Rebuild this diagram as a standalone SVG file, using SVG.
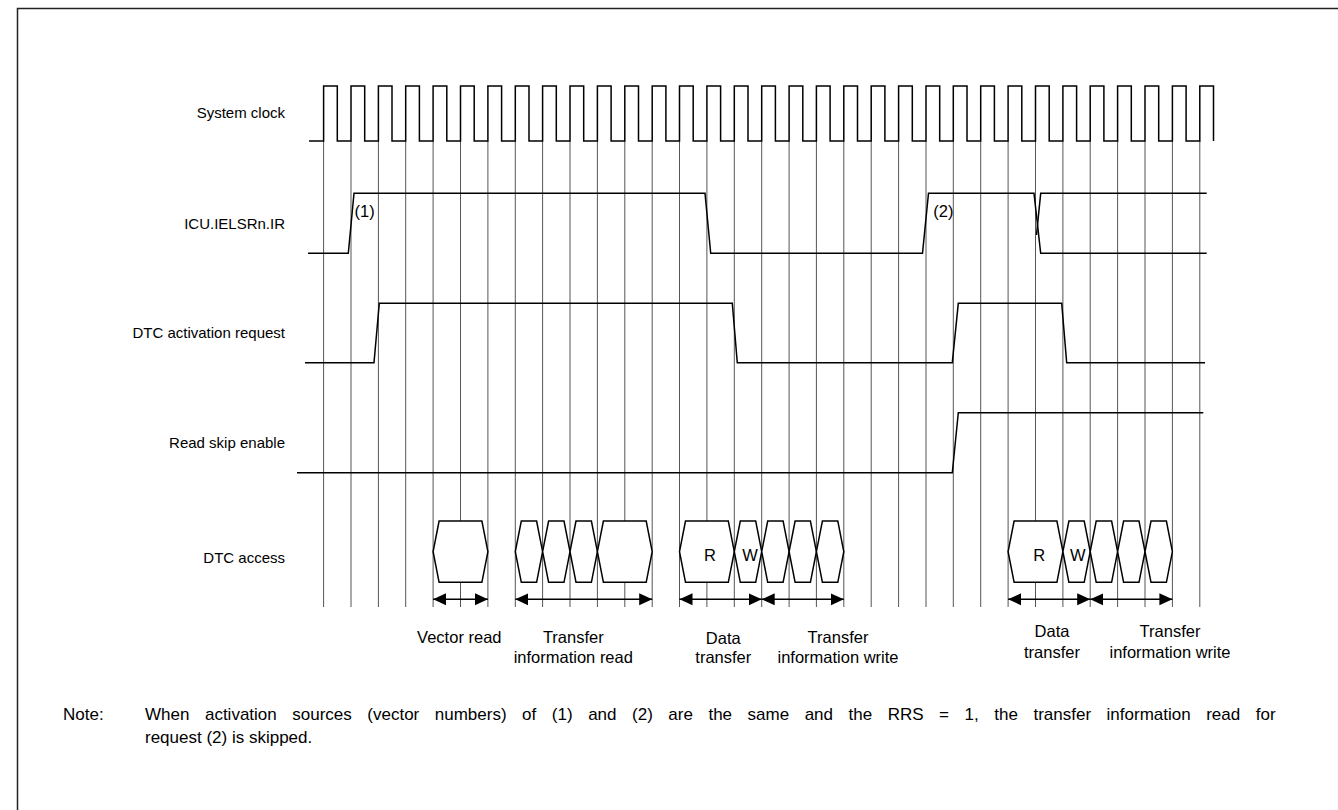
<svg xmlns="http://www.w3.org/2000/svg" width="1338" height="810" viewBox="0 0 1338 810">
<style>
.lbl{font-family:"Liberation Sans",Arial,sans-serif;font-size:15px;fill:#000}
.sm{font-family:"Liberation Sans",Arial,sans-serif;font-size:16.5px;fill:#000}
.note{font-family:"Liberation Sans",Arial,sans-serif;font-size:17px;fill:#000}
.sig{fill:none;stroke:#000;stroke-width:1.5}
.grid{stroke:#555;stroke-width:1}
.hex{fill:#fff;stroke:#000;stroke-width:1.5}
.arr{stroke:#000;stroke-width:1.5;marker-start:url(#ah);marker-end:url(#ah)}
</style>
<defs>
<marker id="ah" markerUnits="userSpaceOnUse" markerWidth="14" markerHeight="14" viewBox="0 0 14 14" refX="13" refY="7" orient="auto-start-reverse">
<path d="M0,1 L13,7 L0,13 Z" fill="#000"/>
</marker>
</defs>
<rect x="17.5" y="8.5" width="1330" height="810" fill="#fff" stroke="#222" stroke-width="1.5"/>
<g id="grid" class="grid">
<line x1="323.6" y1="141" x2="323.6" y2="607"/><line x1="351" y1="141" x2="351" y2="607"/><line x1="378.4" y1="141" x2="378.4" y2="607"/><line x1="405.7" y1="141" x2="405.7" y2="607"/><line x1="433.1" y1="141" x2="433.1" y2="607"/><line x1="460.5" y1="141" x2="460.5" y2="607"/><line x1="487.9" y1="141" x2="487.9" y2="607"/><line x1="515.3" y1="141" x2="515.3" y2="607"/><line x1="542.6" y1="141" x2="542.6" y2="607"/><line x1="570" y1="141" x2="570" y2="607"/><line x1="597.4" y1="141" x2="597.4" y2="607"/><line x1="624.8" y1="141" x2="624.8" y2="607"/><line x1="652.2" y1="141" x2="652.2" y2="607"/><line x1="679.5" y1="141" x2="679.5" y2="607"/><line x1="706.9" y1="141" x2="706.9" y2="607"/><line x1="734.3" y1="141" x2="734.3" y2="607"/><line x1="761.7" y1="141" x2="761.7" y2="607"/><line x1="789.1" y1="141" x2="789.1" y2="607"/><line x1="816.4" y1="141" x2="816.4" y2="607"/><line x1="843.8" y1="141" x2="843.8" y2="607"/><line x1="871.2" y1="141" x2="871.2" y2="607"/><line x1="898.6" y1="141" x2="898.6" y2="607"/><line x1="926" y1="141" x2="926" y2="607"/><line x1="953.3" y1="141" x2="953.3" y2="607"/><line x1="980.7" y1="141" x2="980.7" y2="607"/><line x1="1008.1" y1="141" x2="1008.1" y2="607"/><line x1="1035.5" y1="141" x2="1035.5" y2="607"/><line x1="1062.9" y1="141" x2="1062.9" y2="607"/><line x1="1090.2" y1="141" x2="1090.2" y2="607"/><line x1="1117.6" y1="141" x2="1117.6" y2="607"/><line x1="1145" y1="141" x2="1145" y2="607"/><line x1="1172.4" y1="141" x2="1172.4" y2="607"/><line x1="1199.8" y1="141" x2="1199.8" y2="607"/>
</g>
<g id="labels">
<text class="lbl" x="285" y="118" text-anchor="end">System clock</text>
<text class="lbl" x="285" y="229" text-anchor="end">ICU.IELSRn.IR</text>
<text class="lbl" x="285" y="338" text-anchor="end">DTC activation request</text>
<text class="lbl" x="285" y="448" text-anchor="end">Read skip enable</text>
<text class="lbl" x="285" y="563" text-anchor="end">DTC access</text>
</g>
<g id="clock">
<path class="sig" d="M309,141 H323.6 V86 H337.3 V141 H351 V86 H364.7 V141 H378.4 V86 H392 V141 H405.7 V86 H419.4 V141 H433.1 V86 H446.8 V141 H460.5 V86 H474.2 V141 H487.9 V86 H501.6 V141 H515.3 V86 H529 V141 H542.6 V86 H556.3 V141 H570 V86 H583.7 V141 H597.4 V86 H611.1 V141 H624.8 V86 H638.5 V141 H652.2 V86 H665.9 V141 H679.5 V86 H693.2 V141 H706.9 V86 H720.6 V141 H734.3 V86 H748 V141 H761.7 V86 H775.4 V141 H789.1 V86 H802.8 V141 H816.4 V86 H830.1 V141 H843.8 V86 H857.5 V141 H871.2 V86 H884.9 V141 H898.6 V86 H912.3 V141 H926 V86 H939.7 V141 H953.3 V86 H967 V141 H980.7 V86 H994.4 V141 H1008.1 V86 H1021.8 V141 H1035.5 V86 H1049.2 V141 H1062.9 V86 H1076.6 V141 H1090.2 V86 H1103.9 V141 H1117.6 V86 H1131.3 V141 H1145 V86 H1158.7 V141 H1172.4 V86 H1186.1 V141 H1199.8 V86 H1213.5 V141"/>
</g>
<g id="icu">
<path class="sig" d="M308,253.3 H348.3 L354,193.3 H705 L710.7,253.3 H922.5 L928.5,193.3 H1034 L1040.7,253.3 H1206.7"/>
<path class="sig" d="M1036.5,235 L1040.7,193.3 H1206.7"/>
<text class="sm" x="354.5" y="217">(1)</text>
<text class="sm" x="933.3" y="217">(2)</text>
</g>
<g id="dtcreq">
<path class="sig" d="M305,362.7 H374 L379.3,303.3 H732.3 L737.3,362.7 H952.3 L958.3,303.3 H1061.7 L1066.7,362.7 H1205"/>
</g>
<g id="rse">
<path class="sig" d="M297,472.7 H952.3 L958.3,412.7 H1203.3"/>
</g>
<g id="access">
<polygon class="hex" points="433.1,551.7 439.1,521 481.9,521 487.9,551.7 481.9,582.3 439.1,582.3"/>
<polygon class="hex" points="515.3,551.7 521.3,521 536.6,521 542.6,551.7 536.6,582.3 521.3,582.3"/>
<polygon class="hex" points="542.6,551.7 548.6,521 564,521 570,551.7 564,582.3 548.6,582.3"/>
<polygon class="hex" points="570,551.7 576,521 591.4,521 597.4,551.7 591.4,582.3 576,582.3"/>
<polygon class="hex" points="597.4,551.7 603.4,521 646.2,521 652.2,551.7 646.2,582.3 603.4,582.3"/>
<polygon class="hex" points="679.5,551.7 685.5,521 728.3,521 734.3,551.7 728.3,582.3 685.5,582.3"/>
<polygon class="hex" points="734.3,551.7 740.3,521 755.7,521 761.7,551.7 755.7,582.3 740.3,582.3"/>
<polygon class="hex" points="761.7,551.7 767.7,521 783.1,521 789.1,551.7 783.1,582.3 767.7,582.3"/>
<polygon class="hex" points="789.1,551.7 795.1,521 810.4,521 816.4,551.7 810.4,582.3 795.1,582.3"/>
<polygon class="hex" points="816.4,551.7 822.4,521 837.8,521 843.8,551.7 837.8,582.3 822.4,582.3"/>
<polygon class="hex" points="1008.1,551.7 1014.1,521 1056.9,521 1062.9,551.7 1056.9,582.3 1014.1,582.3"/>
<polygon class="hex" points="1062.9,551.7 1068.9,521 1084.2,521 1090.2,551.7 1084.2,582.3 1068.9,582.3"/>
<polygon class="hex" points="1090.2,551.7 1096.2,521 1111.6,521 1117.6,551.7 1111.6,582.3 1096.2,582.3"/>
<polygon class="hex" points="1117.6,551.7 1123.6,521 1139,521 1145,551.7 1139,582.3 1123.6,582.3"/>
<polygon class="hex" points="1145,551.7 1151,521 1166.4,521 1172.4,551.7 1166.4,582.3 1151,582.3"/>
<text class="sm" x="710" y="561" text-anchor="middle" font-size="15.5">R</text>
<text class="sm" x="750" y="561" text-anchor="middle" font-size="15.5">W</text>
<text class="sm" x="1039.3" y="561" text-anchor="middle" font-size="15.5">R</text>
<text class="sm" x="1077.7" y="561" text-anchor="middle" font-size="15.5">W</text>
</g>
<g id="connectors">
<line class="arr" x1="433.1" y1="599.3" x2="487.9" y2="599.3"/>
<line class="arr" x1="515.3" y1="599.3" x2="652.2" y2="599.3"/>
<line class="arr" x1="679.5" y1="599.3" x2="761.7" y2="599.3"/>
<line class="arr" x1="761.7" y1="599.3" x2="843.8" y2="599.3"/>
<line class="arr" x1="1008.1" y1="599.3" x2="1090.2" y2="599.3"/>
<line class="arr" x1="1090.2" y1="599.3" x2="1172.4" y2="599.3"/>
</g>
<g id="periods" class="sm" text-anchor="middle">
<text x="459.3" y="642.5">Vector read</text>
<text x="573.3" y="642.5">Transfer</text>
<text x="573.3" y="663">information read</text>
<text x="723.3" y="644">Data</text>
<text x="723.3" y="663">transfer</text>
<text x="838" y="642.5">Transfer</text>
<text x="838" y="663">information write</text>
<text x="1052" y="636.5">Data</text>
<text x="1052" y="657.5">transfer</text>
<text x="1170" y="636.5">Transfer</text>
<text x="1170" y="657.5">information write</text>
</g>
<g id="note" class="note">
<text x="63" y="720">Note:</text>
<text x="145" y="720" word-spacing="10.8">When activation sources (vector numbers) of (1) and (2) are the same and the RRS = 1, the transfer information read for</text>
<text x="145" y="743">request (2) is skipped.</text>
</g>
</svg>
